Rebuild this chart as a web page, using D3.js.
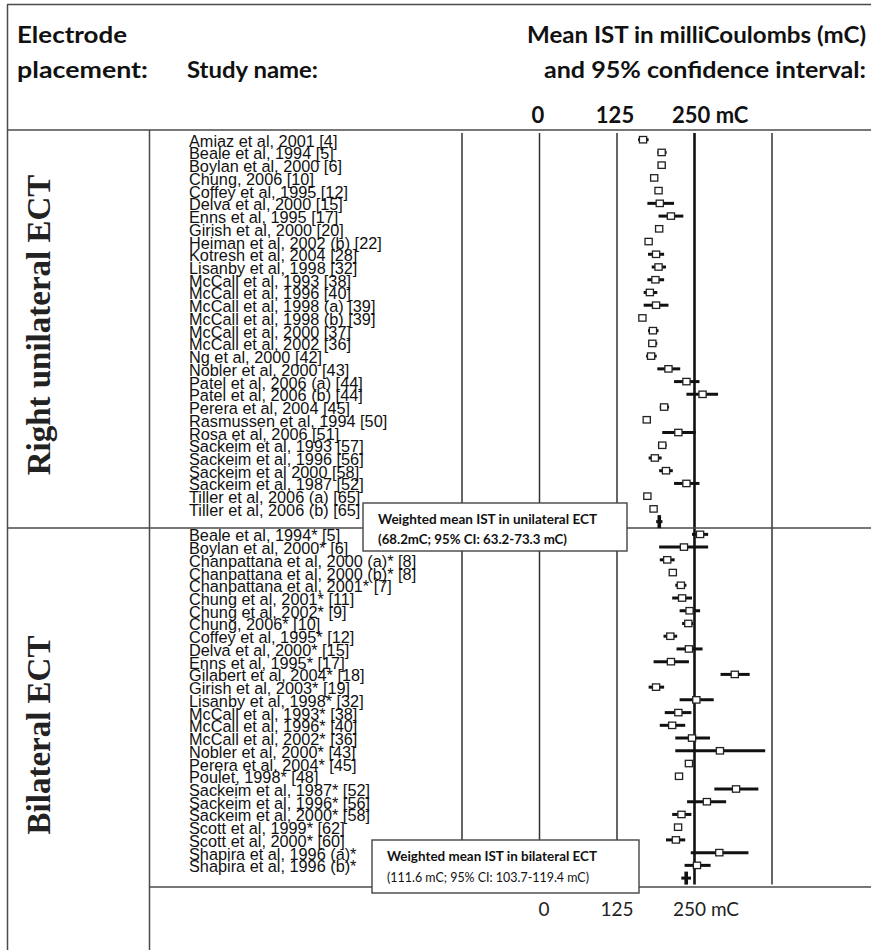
<!DOCTYPE html>
<html>
<head>
<meta charset="utf-8">
<script src="https://cdn.jsdelivr.net/npm/d3@7"></script>
<style>
  html, body { margin: 0; padding: 0; background: #fff; }
  svg { display: block; }
</style>
</head>
<body>
<svg id="chart" width="871" height="950"></svg>
<script>
// ---------------- DATA ----------------
const uniStudies = [
  "Amiaz et al, 2001 [4]", "Beale et al, 1994 [5]", "Boylan et al, 2000 [6]", "Chung, 2006 [10]",
  "Coffey et al, 1995 [12]", "Delva et al, 2000 [15]", "Enns et al, 1995 [17]", "Girish et al, 2000 [20]",
  "Heiman et al, 2002 (b) [22]", "Kotresh et al, 2004 [28]", "Lisanby et al, 1998 [32]", "McCall et al, 1993 [38]",
  "McCall et al, 1996 [40]", "McCall et al, 1998 (a) [39]", "McCall et al, 1998 (b) [39]", "McCall et al, 2000 [37]",
  "McCall et al, 2002 [36]", "Ng et al, 2000 [42]", "Nobler et al, 2000 [43]", "Patel et al, 2006 (a) [44]",
  "Patel et al, 2006 (b) [44]", "Perera et al, 2004 [45]", "Rasmussen et al, 1994 [50]", "Rosa et al, 2006 [51]",
  "Sackeim et al, 1993 [57]", "Sackeim et al, 1996 [56]", "Sackeim et al 2000 [58]", "Sackeim et al, 1987 [52]",
  "Tiller et al, 2006 (a) [65]", "Tiller et al, 2006 (b) [65]"
];
const uniMean = [42, 72, 72, 60, 67, 69, 87, 68, 51, 63, 67, 62, 53, 63, 41, 58, 57, 55, 83, 112, 138, 76, 48, 99, 73, 61, 79, 112, 49, 59];
const uniLow  = [34, 65, 66, 56, 63, 49, 67, 66, 49, 50, 56, 49, 43, 43, 39, 50, 50, 47, 65,  92, 112, 69, 46, 73, 66, 51, 68,  92, 47, 57];
const uniHigh = [51, 80, 79, 64, 71, 92, 107, 70, 53, 76, 79, 76, 65, 83, 43, 67, 65, 64, 102, 133, 163, 84, 50, 127, 80, 72, 90, 133, 51, 61];

const biStudies = [
  "Beale et al, 1994* [5]", "Boylan et al, 2000* [6]", "Chanpattana et al, 2000 (a)* [8]", "Chanpattana et al, 2000 (b)* [8]",
  "Chanpattana et al, 2001* [7]", "Chung et al, 2001* [11]", "Chung et al, 2002* [9]", "Chung, 2006* [10]",
  "Coffey et al, 1995* [12]", "Delva et al, 2000* [15]", "Enns et al, 1995* [17]", "Gilabert et al, 2004* [18]",
  "Girish et al, 2003* [19]", "Lisanby et al, 1998* [32]", "McCall et al, 1993* [38]", "McCall et al, 1996* [40]",
  "McCall et al, 2002* [36]", "Nobler et al, 2000* [43]", "Perera et al, 2004* [45]", "Poulet, 1998* [48]",
  "Sackeim et al, 1987* [52]", "Sackeim et al, 1996* [56]", "Sackeim et al, 2000* [58]", "Scott et al, 1999* [62]",
  "Scott et al, 2000* [60]", "Shapira et al, 1996 (a)*", "Shapira et al, 1996 (b)*"
];
const biMean = [134, 108, 81, 90, 103, 105, 117, 115, 86, 116, 87, 190, 63, 128, 99, 89, 121, 166, 116, 100, 192, 145, 104, 98.5, 95, 165, 129];
const biLow  = [121,  68, 69, 88,  94,  89, 101, 105, 75,  96, 59, 167, 51, 101, 77, 69,  94,  94, 112,  98, 157, 113,  89, 97,   79, 119, 109];
const biHigh = [147, 147, 93, 92, 112, 121, 134, 123, 97, 138, 116, 214, 76, 156, 120, 110, 150, 239, 121, 102, 228, 176, 120, 100, 110, 212, 151];

const pooled = [
  { group: "Right unilateral ECT", mean: 68.2, low: 63.2, high: 73.3,
    title: "Weighted mean IST in unilateral ECT", detail: "(68.2mC; 95% CI: 63.2-73.3 mC)" },
  { group: "Bilateral ECT", mean: 111.6, low: 103.7, high: 119.4,
    title: "Weighted mean IST in bilateral ECT", detail: "(111.6 mC; 95% CI: 103.7-119.4 mC)" }
];

const gridValues = [-250, -125, 0, 125, 250];
const tickLabels = ["0", "125", "250 mC"];
const headerLeft = ["Electrode", "placement:"];
const headerStudy = "Study name:";
const headerRight = ["Mean IST in milliCoulombs (mC)", "and 95% confidence interval:"];

// ---------------- BUILD ROWS ----------------
const rows = [];
uniStudies.forEach((s, i) => rows.push({ name: s, mean: uniMean[i], low: uniLow[i], high: uniHigh[i], type: "study" }));
rows.push({ name: "", mean: pooled[0].mean, low: pooled[0].low, high: pooled[0].high, type: "pooled" });
biStudies.forEach((s, i) => rows.push({ name: s, mean: biMean[i], low: biLow[i], high: biHigh[i], type: "study" }));
rows.push({ name: "", mean: pooled[1].mean, low: pooled[1].low, high: pooled[1].high, type: "pooled" });
rows.forEach((r, i) => r.idx = i);

// ---------------- SCALES ----------------
const x = d3.scaleLinear().domain([-250, 250]).range([462, 772]);
const y = d3.scaleLinear().domain([0, rows.length - 1]).range([139.7, 878.1]);

const svg = d3.select("#chart");
const LINE = "#4a4a4a";

// ---------------- GRID LINES ----------------
svg.append("g").selectAll("line").data(gridValues).join("line")
  .attr("x1", d => x(d)).attr("x2", d => x(d))
  .attr("y1", 133).attr("y2", 884.5)
  .attr("stroke", d => d === 125 ? "#111" : "#333")
  .attr("stroke-width", d => d === 125 ? 2.6 : 1.5);

// ---------------- FRAME ----------------
const frame = svg.append("g").attr("stroke", LINE).attr("stroke-width", 1.5);
frame.append("line").attr("x1", 7).attr("x2", 871).attr("y1", 4.5).attr("y2", 4.5);
frame.append("line").attr("x1", 7.5).attr("x2", 7.5).attr("y1", 4.5).attr("y2", 950);
frame.append("line").attr("x1", 7).attr("x2", 871).attr("y1", 130).attr("y2", 130);
frame.append("line").attr("x1", 149.5).attr("x2", 149.5).attr("y1", 130).attr("y2", 950);
frame.append("line").attr("x1", 7).attr("x2", 871)
  .attr("y1", (y(30) + y(31)) / 2).attr("y2", (y(30) + y(31)) / 2);
frame.append("line").attr("x1", 149).attr("x2", 871).attr("y1", 887).attr("y2", 887);

// ---------------- STUDY MARKS ----------------
const studies = rows.filter(r => r.type === "study");
const g = svg.append("g");
g.selectAll("line.ci").data(studies).join("line").attr("class", "ci")
  .attr("x1", d => x(d.low)).attr("x2", d => x(d.high))
  .attr("y1", d => y(d.idx)).attr("y2", d => y(d.idx))
  .attr("stroke", "#111").attr("stroke-width", 3);
g.selectAll("rect.pt").data(studies).join("rect").attr("class", "pt")
  .attr("x", d => x(d.mean) - 3.6).attr("y", d => y(d.idx) - 3.2)
  .attr("width", 7.2).attr("height", 6.4)
  .attr("fill", "#fff").attr("stroke", "#222").attr("stroke-width", 1.3);

// pooled markers
const pooledRows = rows.filter(r => r.type === "pooled");
g.selectAll("line.pci").data(pooledRows).join("line").attr("class", "pci")
  .attr("x1", d => x(d.low)).attr("x2", d => x(d.high))
  .attr("y1", d => y(d.idx)).attr("y2", d => y(d.idx))
  .attr("stroke", "#111").attr("stroke-width", 3);
g.selectAll("line.pm").data(pooledRows).join("line").attr("class", "pm")
  .attr("x1", d => x(d.mean)).attr("x2", d => x(d.mean))
  .attr("y1", d => y(d.idx) - 6.5).attr("y2", d => y(d.idx) + 6.5)
  .attr("stroke", "#111").attr("stroke-width", 3.6);

// ---------------- STUDY LABELS ----------------
svg.append("g").selectAll("text").data(studies).join("text")
  .attr("x", 189).attr("y", d => y(d.idx) + 7)
  .attr("font-family", "'Liberation Sans', Arial, sans-serif")
  .attr("font-size", 16.3).attr("fill", "#111")
  .text(d => d.name);

// ---------------- SECTION LABELS ----------------
const secY = [325, 735];
svg.append("g").selectAll("text").data(pooled).join("text")
  .attr("transform", (d, i) => `translate(50,${secY[i]}) rotate(-90)`)
  .attr("text-anchor", "middle")
  .attr("font-family", "'Liberation Serif', 'Times New Roman', serif")
  .attr("font-weight", "bold").attr("font-size", 33).attr("fill", "#222")
  .text(d => d.group);

// ---------------- HEADER ----------------
const hdr = svg.append("g").attr("font-family", "Lato, 'Open Sans', sans-serif")
  .attr("font-weight", "bold").attr("fill", "#111").attr("font-size", 23.5);
hdr.append("text").attr("x", 17).attr("y", 43).attr("textLength", 110).attr("lengthAdjust", "spacingAndGlyphs").text(headerLeft[0]);
hdr.append("text").attr("x", 17).attr("y", 78).attr("textLength", 131).attr("lengthAdjust", "spacingAndGlyphs").text(headerLeft[1]);
hdr.append("text").attr("x", 187).attr("y", 78).attr("textLength", 131).attr("lengthAdjust", "spacingAndGlyphs").text(headerStudy);
hdr.append("text").attr("x", 866 - 339).attr("y", 43).attr("textLength", 339).attr("lengthAdjust", "spacingAndGlyphs").text(headerRight[0]);
hdr.append("text").attr("x", 866 - 322).attr("y", 78).attr("textLength", 322).attr("lengthAdjust", "spacingAndGlyphs").text(headerRight[1]);

// header tick labels (positioned at the authors' header positions)
const headTickX = [538, 615, 672];
const headTickAnchor = ["middle", "middle", "start"];
hdr.selectAll("text.ht").data(tickLabels).join("text").attr("class", "ht")
  .attr("x", (d, i) => headTickX[i]).attr("y", 123)
  .attr("text-anchor", (d, i) => headTickAnchor[i])
  .attr("font-size", 22)
  .text(d => d);

// bottom tick labels
const footTickX = [544, 617, 673];
svg.append("g").selectAll("text").data(tickLabels).join("text")
  .attr("x", (d, i) => footTickX[i]).attr("y", 916)
  .attr("text-anchor", (d, i) => headTickAnchor[i])
  .attr("font-family", "Lato, 'Open Sans', sans-serif")
  .attr("font-size", 19).attr("fill", "#222")
  .text(d => d);

// ---------------- NOTE BOXES ----------------
const boxes = [
  { x0: 363, x1: 627, y0: 503, y1: 551, tx: 378, b1: 524, b2: 544, w1: 219, w2: 189, bold2: true },
  { x0: 372, x1: 639, y0: 840, y1: 893, tx: 387, b1: 861, b2: 882, w1: 210, w2: 202, bold2: false }
];
const nb = svg.append("g").selectAll("g").data(pooled).join("g");
nb.append("rect")
  .attr("x", (d, i) => boxes[i].x0).attr("y", (d, i) => boxes[i].y0)
  .attr("width", (d, i) => boxes[i].x1 - boxes[i].x0).attr("height", (d, i) => boxes[i].y1 - boxes[i].y0)
  .attr("fill", "#fff").attr("stroke", "#444").attr("stroke-width", 1.4);
nb.append("text")
  .attr("x", (d, i) => boxes[i].tx).attr("y", (d, i) => boxes[i].b1)
  .attr("textLength", (d, i) => boxes[i].w1).attr("lengthAdjust", "spacingAndGlyphs")
  .attr("font-family", "Lato, 'Open Sans', sans-serif").attr("font-weight", "bold")
  .attr("font-size", 14).attr("fill", "#111")
  .text(d => d.title);
nb.append("text")
  .attr("x", (d, i) => boxes[i].tx).attr("y", (d, i) => boxes[i].b2)
  .attr("textLength", (d, i) => boxes[i].w2).attr("lengthAdjust", "spacingAndGlyphs")
  .attr("font-family", "Lato, 'Open Sans', sans-serif")
  .attr("font-weight", (d, i) => boxes[i].bold2 ? "bold" : "normal")
  .attr("font-size", 14).attr("fill", "#111")
  .text(d => d.detail);
</script>
</body>
</html>
